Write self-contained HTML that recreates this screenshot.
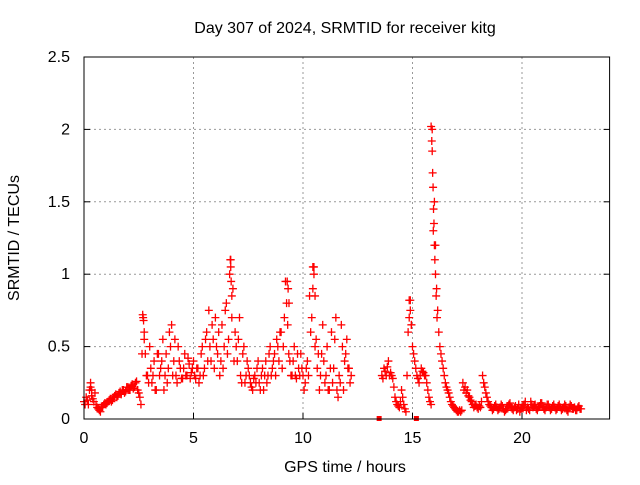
<!DOCTYPE html>
<html><head><meta charset="utf-8"><style>
body{margin:0;background:#fff;}
svg text{font-family:"Liberation Sans",sans-serif;font-size:16px;fill:#000;}
</style></head><body>
<svg id="c" width="640" height="480">
<text x="345" y="33" text-anchor="middle">Day 307 of 2024, SRMTID for receiver kitg</text>
<text x="345" y="472" text-anchor="middle">GPS time / hours</text>
<text transform="translate(19,238) rotate(-90)" text-anchor="middle">SRMTID / TECUs</text>
<g id="grid"></g><g id="marks"></g>
<rect x="84" y="57" width="525.6" height="362" fill="none" stroke="#000" stroke-width="1"/>
</svg>
<script>
const xTicks=[0,5,10,15,20];
const yTicks=[0,0.5,1,1.5,2,2.5];
const yTickLabels=["0","0.5","1","1.5","2","2.5"];
const seg1Start=0, seg1Step=0.1;
const seg1Values=[.12,.15,.1,.25,.14,.18,.08,.06,.08,.1,
.1,.12,.14,.13,.16,.15,.18,.17,.2,.19,
.22,.2,.24,.22,.26,.18,.1,.7,.45,.3,
.5,.25,.4,.2,.45,.35,.55,.3,.25,.6,
.65,.4,.3,.5,.35,.28,.45,.3,.38,.32,
.4,.28,.35,.3,.5,.35,.6,.75,.4,.55,
.7,.45,.3,.65,.5,.8,.55,1.1,.9,.6,
.4,.7,.25,.5,.3,.35,.25,.2,.3,.35,
.25,.3,.2,.4,.3,.5,.35,.45,.55,.4,
.6,.5,.95,.65,.4,.3,.5,.28,.35,.45,
.3,.25,.4,.85,.7,1.05,.55,.45,.3,.65,
.25,.5,.2,.6,.35,.7,.15,.25,.5,.4,
.55,.35,.3];
const seg1bStart=0.05;
const seg1bValues=[.1,.13,.2,.16,.12,.1,.07,.05,.09,.11,
.11,.13,.12,.15,.17,.16,.19,.2,.18,.22,
.2,.23,.21,.25,.2,.15,.45,.55,.3,.25,
.35,.3,.2,.45,.3,.4,.2,.45,.35,.5,
.3,.55,.25,.4,.28,.35,.3,.42,.28,.35,
.3,.35,.25,.45,.3,.55,.4,.5,.65,.35,
.5,.6,.4,.35,.75,.45,1.0,.7,.4,.5,
.55,.3,.45,.25,.4,.3,.22,.28,.25,.4,
.2,.35,.3,.25,.45,.3,.4,.3,.5,.6,
.35,.7,.8,.45,.3,.4,.3,.45,.3,.35,
.2,.35,.3,.6,.9,.5,.35,.2,.45,.4,
.3,.2,.35,.25,.55,.2,.3,.65,.2,.45,
.35,.25];
const seg2Start=13.6, seg2Step=0.1;
const seg2Values=[.3,.35,.3,.4,.32,.28,.15,.1,.08,.2,
.1,.05,.6,.82,.5,.4,.3,.25,.35,.32,
.3,.2,.12,2.0,1.5,.9,.6,.45,.35,.25,
.2,.15,.1,.08,.06,.05,.05,.25,.22,.2,
.15,.12,.08,.1,.07,.08,.3,.22,.15,.1,
.08,.07,.1,.06,.08,.09,.05,.07,.1,.08,
.06,.09,.07,.05,.08,.1,.06,.07,.12,.08,
.1,.06,.09,.11,.07,.08,.1,.06,.09,.08,
.07,.1,.06,.08,.09,.05,.1,.07,.08,.06,
.09,.07];
const seg2bStart=13.65;
const seg2bValues=[.28,.33,.36,.3,.3,.22,.12,.09,.12,.15,
.07,.3,.7,.65,.45,.35,.28,.3,.33,.3,
.25,.15,.1,1.3,1.2,.75,.5,.4,.3,.22,
.18,.12,.09,.07,.05,.06,.06,.2,.18,.16,
.13,.1,.09,.08,.09,.12,.25,.18,.12,.09,
.06,.09,.08,.07,.1,.07,.06,.09,.11,.07,
.08,.06,.1,.07,.09,.12,.08,.06,.1,.09,
.07,.08,.11,.09,.06,.1,.08,.07,.1,.06,
.09,.08,.07,.1,.06,.08,.09,.07,.06,.08,
.07];
const extraTimes=[15.85,15.88,15.9,15.92,15.94,15.96,15.98,16.0,16.02,16.05,16.08,16.12,6.68,6.7,6.72,6.75,9.28,9.32,9.36,10.45,10.5,10.55,2.68,2.72,2.75,14.85,14.9,14.95,0.3,0.35];
const extraValues=[2.02,1.92,1.85,1.7,1.6,1.45,1.35,1.2,1.1,1.0,0.85,0.7,1.1,1.05,0.95,0.85,0.95,0.9,0.8,1.05,1.0,0.85,0.72,0.68,0.6,0.82,0.75,0.65,0.22,0.2];
const squareTimes=[13.5,15.2];
const X=t=>84+t*21.9, Y=v=>419-v*144.8;
const NS="http://www.w3.org/2000/svg";
const g=document.getElementById('grid'),m=document.getElementById('marks');
function el(tag,attrs,parent){const e=document.createElementNS(NS,tag);for(const k in attrs)e.setAttribute(k,attrs[k]);parent.appendChild(e);return e;}
xTicks.forEach(t=>{
 if(t>0){const l=el('line',{x1:X(t),x2:X(t),y1:57,y2:419,stroke:'#999','stroke-dasharray':'2,3'},g);
 
 }
 el('line',{x1:X(t),x2:X(t),y1:419,y2:413,stroke:'#000'},g);
 const tx=el('text',{x:X(t),y:443,'text-anchor':'middle'},g);tx.textContent=t;
 
 
});
yTicks.forEach((v,i)=>{
 if(v>0&&v<2.5){const l=el('line',{x1:84,x2:609.6,y1:Y(v),y2:Y(v),stroke:'#999','stroke-dasharray':'2,3'},g);
 
 }
 el('line',{x1:84,x2:90,y1:Y(v),y2:Y(v),stroke:'#000'},g);
 el('line',{x1:609.6,x2:603.6,y1:Y(v),y2:Y(v),stroke:'#000'},g);
 const tx=el('text',{x:70,y:Y(v)+5,'text-anchor':'end'},g);tx.textContent=yTickLabels[i];
 
 
});
function plus(t,v){const x=X(t),y=Y(v);
 const p=el('path',{d:`M${x-4},${y}h8M${x},${y-4}v8`,stroke:'#f00','stroke-width':1.3},m);
 
 }
seg1Values.forEach((v,i)=>plus(seg1Start+i*seg1Step,v));
seg1bValues.forEach((v,i)=>plus(seg1bStart+i*seg1Step,v));
seg2Values.forEach((v,i)=>plus(seg2Start+i*seg2Step,v));
seg2bValues.forEach((v,i)=>plus(seg2bStart+i*seg2Step,v));
extraValues.forEach((v,i)=>plus(extraTimes[i],v));
squareTimes.forEach(t=>{const r=el('rect',{x:X(t)-3,y:416,width:5,height:5,fill:'#f00'},m);
 
 });
</script>
</body></html>
